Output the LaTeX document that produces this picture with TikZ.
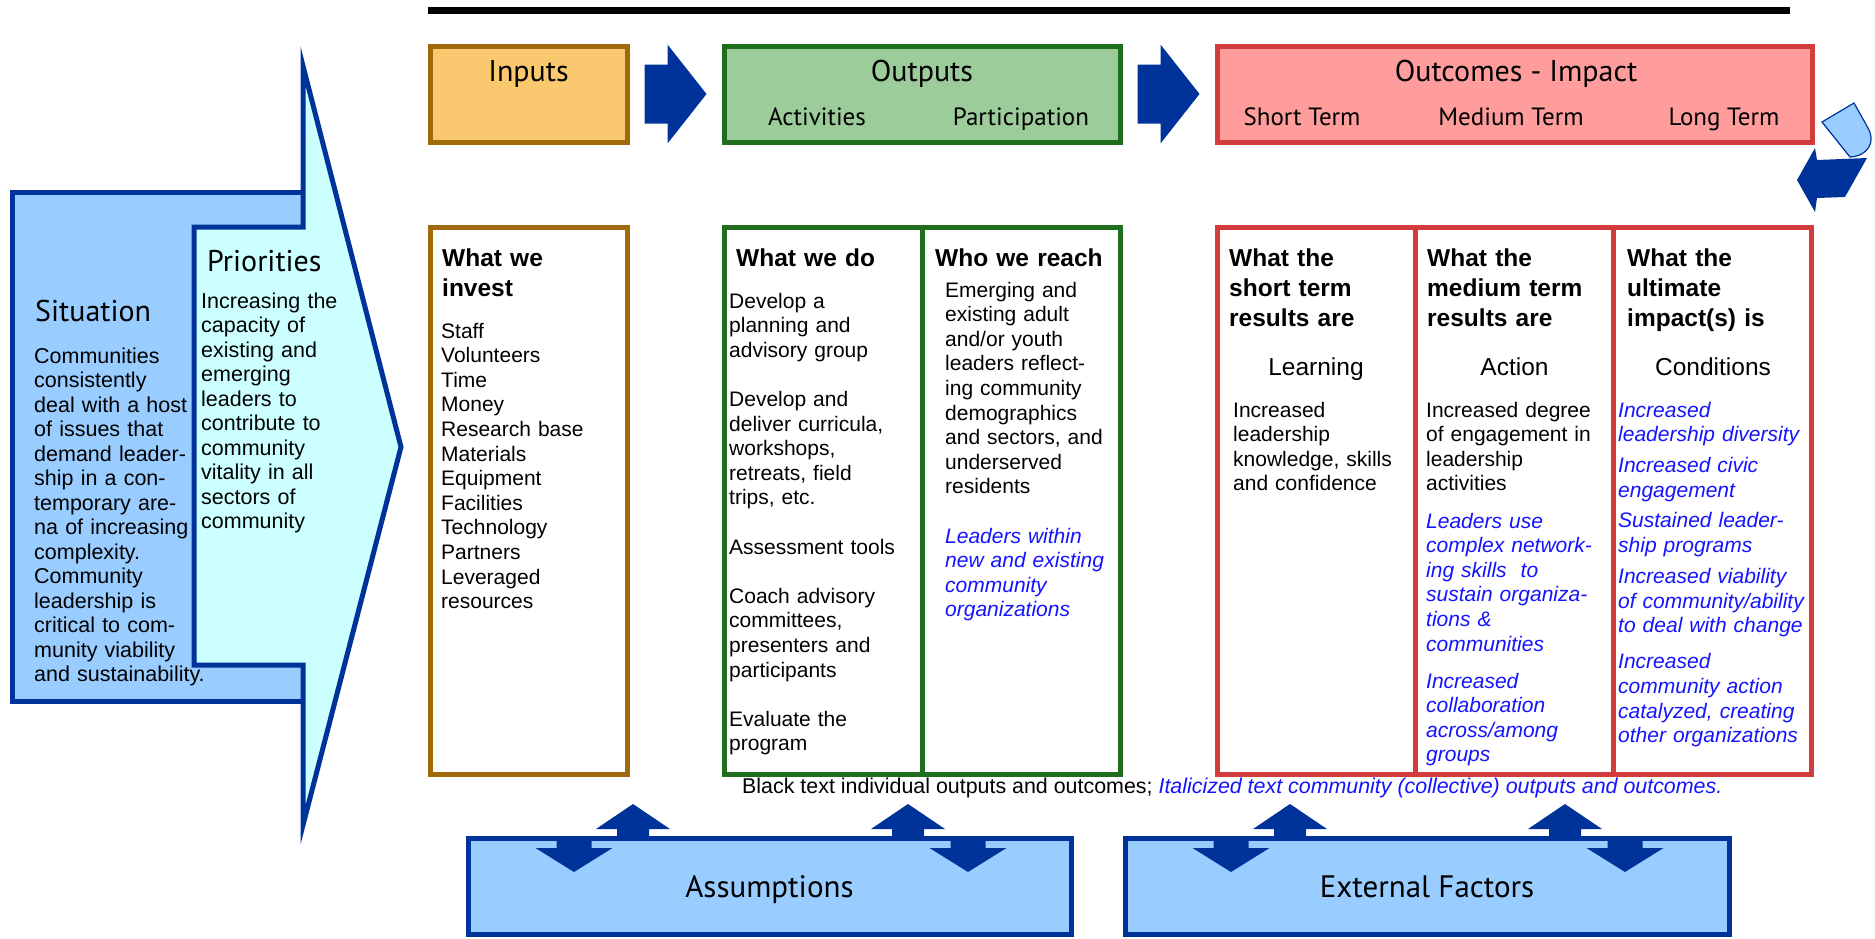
\documentclass[tikz,border=0pt]{standalone}
\usepackage{fontspec}
\setmainfont{Liberation Sans}
\newfontfamily\myriad{PT Sans}
\usetikzlibrary{positioning}

\definecolor{navy}{HTML}{003399}
\definecolor{skyfill}{HTML}{99CCFF}
\definecolor{icefill}{HTML}{CCFFFF}
\definecolor{inbrown}{HTML}{A0690A}
\definecolor{infill}{HTML}{FAC86E}
\definecolor{outgreen}{HTML}{1E6E1E}
\definecolor{outfill}{HTML}{9CCC9A}
\definecolor{ocred}{HTML}{D23C3C}
\definecolor{ocfill}{HTML}{FF9C9C}
\definecolor{comblue}{HTML}{1414FF}

\begin{document}
\begin{tikzpicture}[x=1pt,y=-1pt,
    box/.style={rectangle,draw,line width=5pt,inner sep=0pt,outer sep=0pt},
    body col/.style={box,fill=white,minimum width=198.3pt,minimum height=547pt},
    big label/.style={font=\myriad\fontsize{30}{36}\selectfont,inner sep=0pt,anchor=base},
    sub label/.style={font=\myriad\fontsize{25}{30}\selectfont,inner sep=0pt,anchor=base},
    col head/.style={font=\bfseries\fontsize{24.5}{30}\selectfont,align=left,text width=195pt,inner sep=0pt,anchor=base west},
    body text/.style={font=\fontsize{21}{24.6}\selectfont,align=left,text width=200pt,inner sep=0pt,anchor=base west},
    com text/.style={body text,text=comblue,font=\itshape\fontsize{21}{24.6}\selectfont},
    term/.style={font=\fontsize{24.5}{30}\selectfont,inner sep=0pt,anchor=base}]

  \useasboundingbox[fill=white] (0,0) rectangle (1875,938);

  % situation and priorities
  \node[box,draw=navy,fill=skyfill,minimum width=291pt,minimum height=509pt] (situation) at (157.5,446.5) {};
  \filldraw[draw=navy,fill=icefill,line width=5pt] (194,227) -- (303,227) -- (303,66) -- (401,447)
     -- (303,825) -- (303,665) -- (194,665) -- cycle;
  \node[font=\myriad\fontsize{30}{36}\selectfont,inner sep=0pt,anchor=base west] (sitLbl) at (35,321) {Situation};
  \node[font=\myriad\fontsize{30}{36}\selectfont,inner sep=0pt,anchor=base west] (prioLbl) at (207,271) {Priorities};
  \node[body text,font=\fontsize{21.5}{24.5}\selectfont,text width=270pt] (sitTxt) at (34,363)
    {Communities\\consistently\\deal with a host\\of issues that\\demand leader-\\ship in a con-\\temporary are-\\na of increasing\\complexity.\\Community\\leadership is\\critical to com-\\munity viability\\and sustainability.};
  \node[body text,font=\fontsize{21.5}{24.5}\selectfont,text width=150pt] (prioTxt) at (201,308)
    {Increasing the\\capacity of\\existing and\\emerging\\leaders to\\contribute to\\community\\vitality in all\\sectors of\\community};

  % headline
  \draw[line width=7pt] (428,10) -- (1790,10);

  % header boxes
  \node[box,draw=inbrown,fill=infill,minimum width=197pt,minimum height=96pt] (inputs) at (528.5,94) {};
  \node[box,draw=outgreen,fill=outfill,minimum width=396pt,minimum height=96pt] (outputs) at (922,94) {};
  \node[box,draw=ocred,fill=ocfill,minimum width=595pt,minimum height=96pt] (outcomes) at (1514.5,94) {};
  \node[big label] (inLbl) at (528.5,81) {Inputs};
  \node[big label] (outLbl) at (922,81) {Outputs};
  \node[sub label] (actLbl) at (817,125) {Activities};
  \node[sub label] (partLbl) at (1021,125) {Participation};
  \node[big label] (ocLbl) at (1516,81) {Outcomes - Impact};
  \node[sub label] (shortLbl) at (1302,125) {Short Term};
  \node[sub label] (medLbl) at (1511,125) {Medium Term};
  \node[sub label] (longLbl) at (1724,125) {Long Term};

  % arrows between the headers
  \path (inputs.east) -- coordinate[midway] (gapA) (outputs.west);
  \path (outputs.east) -- coordinate[midway] (gapB) (outcomes.west);
  \foreach \g in {gapA,gapB}
    \fill[navy,shift={(\g)}] (-31,-29.5) -- (-8,-29.5) -- (-8,-49.5) -- (31,0) -- (-8,49.5) -- (-8,29.5) -- (-31,29.5) -- cycle;

  % loop arrow
  \filldraw[fill=skyfill,draw=navy,line width=1.2pt] (1822,122) -- (1854,103) -- (1868,128)
     .. controls (1876,142) and (1868,156) .. (1850,157) -- cycle;
  \fill[navy] (1797,180) -- (1815,148) -- (1817,160) -- (1867,158) -- (1845,197) -- (1817,198) -- (1815,212) -- cycle;

  % body columns
  \node[body col,draw=inbrown,minimum width=197pt] (invest) at (528.5,500.5) {};
  \node[body col,draw=outgreen,minimum width=198pt] (whatdo) at (823,500.5) {};
  \node[body col,draw=outgreen,minimum width=198pt,right=0pt of whatdo] (whoreach) {};
  \node[body col,draw=ocred] (shortres) at (1316.15,500.5) {};
  \node[body col,draw=ocred,right=0pt of shortres] (medres) {};
  \node[body col,draw=ocred,right=0pt of medres] (longres) {};

  \node[col head] (investHd) at (442,266) {What we\\invest};
  \node[body text] (investTxt) at (441,338)
    {Staff\\Volunteers\\Time\\Money\\Research base\\Materials\\Equipment\\Facilities\\Technology\\Partners\\Leveraged\\resources};

  \node[col head] (doHd) at (736,266) {What we do};
  \node[body text] (doTxt) at (729,308)
    {Develop a\\planning and\\advisory group\\[24.6pt]Develop and\\deliver curricula,\\workshops,\\retreats, field\\trips, etc.\\[24.6pt]Assessment tools\\[24.6pt]Coach advisory\\committees,\\presenters and\\participants\\[24.6pt]Evaluate the\\program};

  \node[col head] (reachHd) at (935,266) {Who we reach};
  \node[body text] (reachTxt) at (945,297)
    {Emerging and\\existing adult\\and/or youth\\leaders reflect-\\ing community\\demographics\\and sectors, and\\underserved\\residents};
  \node[com text] (reachCom) at (945,543)
    {Leaders within\\new and existing\\community\\organizations};

  \node[col head] (shortHd) at (1229,266) {What the\\short term\\results are};
  \node[col head] (medHd) at (1427,266) {What the\\medium term\\results are};
  \node[col head] (longHd) at (1627,266) {What the\\ultimate\\impact(s) is};
  \node[term] (learnLbl) at (1316,375) {Learning};
  \node[term] (actionLbl) at (1514.5,375) {Action};
  \node[term] (condLbl) at (1713,375) {Conditions};

  \node[body text] (shortTxt) at (1233,417)
    {Increased\\leadership\\knowledge, skills\\and confidence};
  \node[body text] (medTxt) at (1426,417)
    {Increased degree\\of engagement in\\leadership\\activities};
  \node[com text] (medCom) at (1426,528)
    {Leaders use\\complex network-\\ing skills\ \ to\\sustain organiza-\\tions \&\\communities\\[12.4pt]Increased\\collaboration\\across/among\\groups};
  \node[com text] (longCom) at (1618,417)
    {Increased\\leadership diversity\\[6.5pt]Increased civic\\engagement\\[6pt]Sustained leader-\\ship programs\\[6.5pt]Increased viability\\of community/ability\\to deal with change\\[11.5pt]Increased\\community action\\catalyzed, creating\\other organizations};

  \node[font=\fontsize{21.4}{24.6}\selectfont,inner sep=0pt,anchor=base west] (legend) at (742,793)
    {Black text individual outputs and outcomes; {\color{comblue}\itshape Italicized text community (collective) outputs and outcomes.}};

  % assumptions and external factors
  \node[box,draw=navy,fill=skyfill,minimum width=603pt,minimum height=96pt] (assume) at (769.5,886) {};
  \node[box,draw=navy,fill=skyfill,minimum width=604pt,minimum height=96pt] (extern) at (1427,886) {};
  \node[font=\myriad\fontsize{31}{36}\selectfont,inner sep=0pt,anchor=base] (assumeLbl) at (769.5,897) {Assumptions};
  \node[font=\myriad\fontsize{31}{36}\selectfont,inner sep=0pt,anchor=base] (externLbl) at (1427,897) {External Factors};
  \foreach \bx in {assume,extern}{
    \foreach \ox in {165,440}
      \fill[navy,shift={(\bx.north west)},xshift=\ox pt] (-16,2) -- (-16,-9) -- (-37,-9) -- (0,-34) -- (37,-9) -- (16,-9) -- (16,2) -- cycle;
    \foreach \ox in {106,500}
      \fill[navy,shift={(\bx.north west)},xshift=\ox pt] (-17.5,-2) -- (-17.5,10) -- (-38.5,10) -- (0,34) -- (38.5,10) -- (17.5,10) -- (17.5,-2) -- cycle;
  }
\end{tikzpicture}
\end{document}
